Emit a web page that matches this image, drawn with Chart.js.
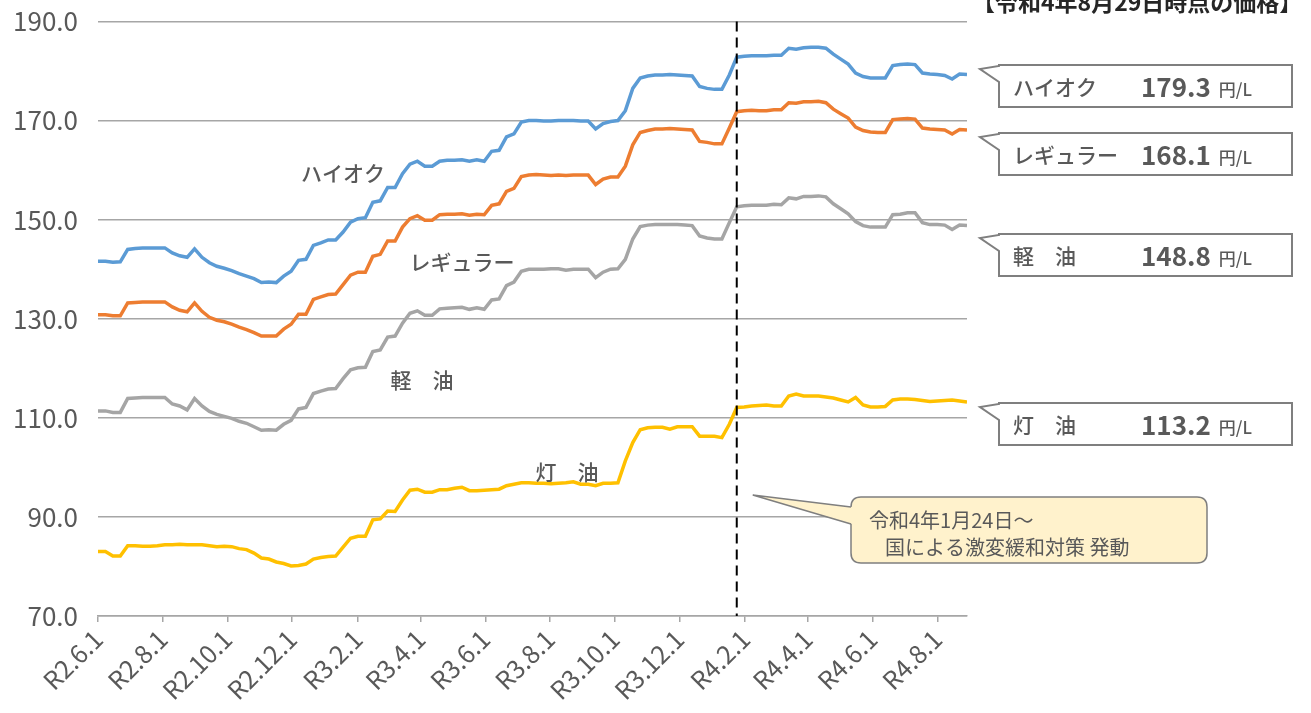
<!DOCTYPE html>
<html lang="ja">
<head>
<meta charset="utf-8">
<script src="https://cdn.jsdelivr.net/npm/chart.js@4"></script>
<style>
  html, body { margin: 0; padding: 0; background: #fff; }
  #wrap { width: 1311px; height: 713px; }
</style>
</head>
<body>
<div id="wrap"><canvas id="chart"></canvas></div>
<script>
// weekly survey, Mondays from R2.6.1 to R4.8.29
const startDate = '2020-06-01';
const weekCount = 118;
const subsidyDate = '2022-01-24';

const tickDates = ['2020-06-01', '2020-08-01', '2020-10-01', '2020-12-01', '2021-02-01', '2021-04-01', '2021-06-01',
    '2021-08-01', '2021-10-01', '2021-12-01', '2022-02-01', '2022-04-01', '2022-06-01', '2022-08-01'];
const tickLabels = ['R2.6.1', 'R2.8.1', 'R2.10.1', 'R2.12.1', 'R3.2.1', 'R3.4.1', 'R3.6.1',
    'R3.8.1', 'R3.10.1', 'R3.12.1', 'R4.2.1', 'R4.4.1', 'R4.6.1', 'R4.8.1'];
const yTicks = [70, 90, 110, 130, 150, 170, 190];

const hiocPrices = [
    141.6, 141.6, 141.4, 141.5, 144.0, 144.2, 144.3, 144.3, 144.3, 144.3,
    143.3, 142.7, 142.4, 144.1, 142.4, 141.3, 140.6, 140.2, 139.7, 139.1,
    138.6, 138.1, 137.3, 137.4, 137.3, 138.6, 139.6, 141.8, 142.0, 144.8,
    145.3, 145.9, 145.9, 147.5, 149.5, 150.2, 150.4, 153.5, 153.8, 156.5,
    156.5, 159.3, 161.2, 161.8, 160.8, 160.8, 161.8, 162.0, 162.0, 162.1,
    161.8, 162.1, 161.8, 163.8, 164.0, 166.7, 167.3, 169.7, 170.0, 170.0,
    169.9, 169.9, 170.0, 170.0, 170.0, 169.9, 169.9, 168.3, 169.4, 169.8,
    170.0, 172.0, 176.5, 178.6, 179.0, 179.2, 179.2, 179.3, 179.2, 179.1,
    179.0, 176.9, 176.5, 176.3, 176.3, 179.2, 182.8, 183.0, 183.1, 183.1,
    183.1, 183.2, 183.2, 184.6, 184.4, 184.7, 184.8, 184.8, 184.6, 183.4,
    182.4, 181.4, 179.6, 178.9, 178.6, 178.6, 178.6, 181.1, 181.3, 181.4,
    181.3, 179.6, 179.4, 179.3, 179.1, 178.4, 179.4, 179.3
];
const regularPrices = [
    130.8, 130.8, 130.6, 130.6, 133.2, 133.3, 133.4, 133.4, 133.4, 133.4,
    132.4, 131.7, 131.4, 133.2, 131.5, 130.3, 129.7, 129.4, 128.9, 128.3,
    127.8, 127.2, 126.5, 126.5, 126.5, 127.9, 128.9, 130.9, 130.9, 133.9,
    134.4, 134.9, 135.0, 136.9, 138.8, 139.4, 139.4, 142.6, 143.0, 145.7,
    145.7, 148.5, 150.2, 150.8, 149.9, 149.9, 151.0, 151.1, 151.1, 151.2,
    150.9, 151.1, 151.0, 152.9, 153.2, 155.7, 156.3, 158.7, 159.0, 159.1,
    159.0, 158.9, 159.0, 158.9, 159.0, 159.0, 159.0, 157.1, 158.2, 158.6,
    158.6, 160.8, 165.1, 167.6, 168.0, 168.3, 168.3, 168.4, 168.3, 168.2,
    168.1, 165.8, 165.6, 165.3, 165.3, 168.5, 171.8, 172.0, 172.1, 172.0,
    172.0, 172.2, 172.2, 173.6, 173.5, 173.8, 173.8, 173.9, 173.6, 172.3,
    171.4, 170.5, 168.7, 168.0, 167.7, 167.6, 167.6, 170.2, 170.3, 170.4,
    170.3, 168.5, 168.3, 168.2, 168.1, 167.3, 168.2, 168.1
];
const dieselPrices = [
    111.4, 111.4, 111.1, 111.1, 113.9, 114.0, 114.1, 114.1, 114.1, 114.1,
    112.8, 112.4, 111.6, 113.9, 112.4, 111.3, 110.7, 110.3, 109.9, 109.3,
    108.9, 108.2, 107.5, 107.6, 107.5, 108.7, 109.5, 111.8, 112.1, 114.9,
    115.4, 115.8, 115.9, 117.9, 119.7, 120.1, 120.2, 123.4, 123.7, 126.3,
    126.5, 129.1, 131.1, 131.6, 130.7, 130.7, 132.0, 132.1, 132.2, 132.3,
    131.9, 132.2, 131.9, 133.8, 134.0, 136.7, 137.4, 139.6, 140.0, 140.0,
    140.0, 140.1, 140.1, 139.8, 140.0, 140.0, 140.0, 138.3, 139.4, 140.0,
    140.1, 142.0, 146.1, 148.6, 148.9, 149.0, 149.0, 149.0, 149.0, 148.9,
    148.8, 146.7, 146.3, 146.1, 146.1, 149.4, 152.6, 152.8, 152.9, 152.9,
    152.9, 153.1, 153.0, 154.4, 154.2, 154.7, 154.7, 154.8, 154.6, 153.2,
    152.2, 151.2, 149.6, 148.8, 148.5, 148.5, 148.5, 151.0, 151.1, 151.4,
    151.4, 149.4, 149.0, 149.0, 148.9, 148.0, 148.9, 148.8
];
const kerosenePrices = [
    83.0, 83.0, 82.1, 82.1, 84.2, 84.2, 84.1, 84.1, 84.2, 84.4,
    84.4, 84.5, 84.4, 84.4, 84.4, 84.2, 84.0, 84.1, 84.0, 83.6,
    83.4, 82.7, 81.7, 81.5, 80.9, 80.6, 80.1, 80.2, 80.5, 81.5,
    81.8, 82.0, 82.1, 83.9, 85.7, 86.1, 86.1, 89.4, 89.6, 91.2,
    91.1, 93.4, 95.4, 95.6, 95.0, 95.0, 95.5, 95.5, 95.8, 96.0,
    95.3, 95.3, 95.4, 95.5, 95.6, 96.3, 96.6, 96.9, 96.9, 96.8,
    96.8, 96.7, 96.8, 96.9, 97.1, 96.6, 96.6, 96.3, 96.8, 96.8,
    96.9, 101.3, 105.0, 107.6, 108.0, 108.1, 108.1, 107.7, 108.2, 108.2,
    108.2, 106.3, 106.3, 106.3, 106.0, 108.7, 112.1, 112.2, 112.4, 112.5,
    112.6, 112.4, 112.4, 114.4, 114.8, 114.4, 114.4, 114.4, 114.2, 114.0,
    113.6, 113.2, 114.1, 112.6, 112.2, 112.2, 112.3, 113.6, 113.8, 113.8,
    113.7, 113.5, 113.3, 113.4, 113.5, 113.6, 113.4, 113.2
];

const seriesNames = ['ハイオク', 'レギュラー', '軽　油', '灯　油'];
const seriesColors = ['#5b9bd5', '#ed7d31', '#a5a5a5', '#ffc000'];

const FONT = '"Noto Sans CJK JP", "Noto Sans", sans-serif';
const TEXT_COLOR = '#595959';

function dayOf(dateStr) {
    return (Date.parse(dateStr) - Date.parse(startDate)) / 86400000;
}

const weekDays = [];
for (let i = 0; i < weekCount; i++) weekDays.push(i * 7);

function toPoints(values) {
    return values.map((v, i) => ({ x: weekDays[i], y: v }));
}

const allSeries = [hiocPrices, regularPrices, dieselPrices, kerosenePrices];

// in-chart series names, callouts on the right, subsidy note
const inlineLabels = [
    { text: 'ハイオク', x: 343, y: 173 },
    { text: 'レギュラー', x: 462, y: 262 },
    { text: '軽　油', x: 422, y: 380 },
    { text: '灯　油', x: 567, y: 472 }
];
const calloutTops = [65, 133, 234, 403];

function roundRect(ctx, x, y, w, h, r) {
    ctx.beginPath();
    ctx.moveTo(x + r, y);
    ctx.lineTo(x + w - r, y);
    ctx.quadraticCurveTo(x + w, y, x + w, y + r);
    ctx.lineTo(x + w, y + h - r);
    ctx.quadraticCurveTo(x + w, y + h, x + w - r, y + h);
    ctx.lineTo(x + r, y + h);
    ctx.quadraticCurveTo(x, y + h, x, y + h - r);
    ctx.lineTo(x, y + r);
    ctx.quadraticCurveTo(x, y, x + r, y);
    ctx.closePath();
}

const overlayPlugin = {
    id: 'overlay',
    afterDatasetsDraw(chart) {
        const ctx = chart.ctx;
        const area = chart.chartArea;
        const sx = chart.scales.x.getPixelForValue(dayOf(subsidyDate));
        ctx.save();
        ctx.strokeStyle = '#000';
        ctx.lineWidth = 2;
        ctx.setLineDash([10, 6]);
        ctx.beginPath();
        ctx.moveTo(sx, area.top);
        ctx.lineTo(sx, area.bottom);
        ctx.stroke();
        ctx.restore();
    },
    afterDraw(chart) {
        const ctx = chart.ctx;
        const sx = chart.scales.x.getPixelForValue(dayOf(subsidyDate));
        ctx.save();

        // names next to the lines
        ctx.fillStyle = TEXT_COLOR;
        ctx.font = '500 21px ' + FONT;
        ctx.textAlign = 'center';
        ctx.textBaseline = 'middle';
        inlineLabels.forEach(l => ctx.fillText(l.text, l.x, l.y));

        // title, cut at the top edge like the original
        ctx.font = 'bold 23px ' + FONT;
        ctx.fillStyle = '#262626';
        ctx.textAlign = 'left';
        ctx.fillText('【令和4年8月29日時点の価格】', 972, 2);

        // price callouts
        calloutTops.forEach((top, i) => {
            const left = 999, right = 1292, h = 42;
            ctx.beginPath();
            ctx.moveTo(left, top);
            ctx.lineTo(right, top);
            ctx.lineTo(right, top + h);
            ctx.lineTo(left, top + h);
            ctx.lineTo(left, top + 17);
            ctx.lineTo(980, top + 4);
            ctx.lineTo(left, top + 1);
            ctx.closePath();
            ctx.fillStyle = '#fff';
            ctx.fill();
            ctx.strokeStyle = '#7f7f7f';
            ctx.lineWidth = 2;
            ctx.setLineDash([]);
            ctx.stroke();

            const mid = top + h / 2 + 1;
            ctx.fillStyle = TEXT_COLOR;
            ctx.textBaseline = 'middle';
            ctx.textAlign = 'left';
            ctx.font = '500 21px ' + FONT;
            ctx.fillText(seriesNames[i], 1013, mid);
            const series = allSeries[i];
            const valueText = series[series.length - 1].toFixed(1);
            ctx.font = 'bold 26px ' + FONT;
            ctx.fillText(valueText, 1141, mid);
            const w = ctx.measureText(valueText).width;
            ctx.font = '500 17px ' + FONT;
            ctx.fillText('円/L', 1141 + w + 8, mid + 3);
        });

        // subsidy note bubble
        const bx = 851, by = 497, bw = 356, bh = 66;
        ctx.beginPath();
        roundRect(ctx, bx, by, bw, bh, 10);
        ctx.fillStyle = '#fff2cc';
        ctx.fill();
        ctx.strokeStyle = '#7f7f7f';
        ctx.lineWidth = 1.5;
        ctx.stroke();
        ctx.beginPath();
        ctx.moveTo(bx + 1, by + 10);
        ctx.lineTo(sx + 16, by - 2);
        ctx.lineTo(bx + 1, by + 27);
        ctx.closePath();
        ctx.fill();
        ctx.beginPath();
        ctx.moveTo(bx, by + 10);
        ctx.lineTo(sx + 16, by - 2);
        ctx.lineTo(bx, by + 27);
        ctx.stroke();

        ctx.fillStyle = TEXT_COLOR;
        ctx.font = '20px ' + FONT;
        ctx.textAlign = 'left';
        ctx.textBaseline = 'middle';
        ctx.fillText('令和4年1月24日～', 869, 520);
        ctx.fillText('国による激変緩和対策 発動', 885, 547);
        ctx.restore();
    }
};

new Chart(document.getElementById('chart'), {
    type: 'line',
    data: {
        datasets: allSeries.map((values, i) => ({
            label: seriesNames[i],
            data: toPoints(values),
            borderColor: seriesColors[i],
            backgroundColor: seriesColors[i],
            borderWidth: 3.5,
            pointRadius: 0,
            tension: 0,
            fill: false
        }))
    },
    options: {
        responsive: true,
        maintainAspectRatio: false,
        animation: false,
        layout: { padding: { left: 0, right: 344, top: 21.5, bottom: 0 } },
        plugins: {
            legend: { display: false },
            tooltip: { enabled: false }
        },
        scales: {
            x: {
                type: 'linear',
                min: 0,
                max: dayOf('2022-08-29'),
                afterBuildTicks: axis => {
                    axis.ticks = tickDates.map(d => ({ value: dayOf(d) }));
                },
                afterFit: axis => { axis.height = 97; },
                ticks: {
                    autoSkip: false,
                    minRotation: 45,
                    maxRotation: 45,
                    padding: 2,
                    color: TEXT_COLOR,
                    font: { family: FONT, size: 25 },
                    callback: (value, index) => tickLabels[index]
                },
                grid: {
                    drawOnChartArea: false,
                    drawTicks: true,
                    tickLength: 6,
                    color: '#a6a6a6',
                    lineWidth: 1.5
                },
                border: { color: '#a6a6a6', width: 1.5 }
            },
            y: {
                min: 70,
                max: 190,
                afterBuildTicks: axis => {
                    axis.ticks = yTicks.map(v => ({ value: v }));
                },
                afterFit: axis => { axis.width = 98; },
                ticks: {
                    padding: 0,
                    color: TEXT_COLOR,
                    font: { family: FONT, size: 26 },
                    callback: value => value.toFixed(1)
                },
                grid: {
                    drawTicks: true,
                    tickLength: 20,
                    tickColor: 'rgba(0,0,0,0)',
                    color: '#a6a6a6',
                    lineWidth: 1.5
                },
                border: { display: false }
            }
        }
    },
    plugins: [overlayPlugin]
});
</script>
</body>
</html>
